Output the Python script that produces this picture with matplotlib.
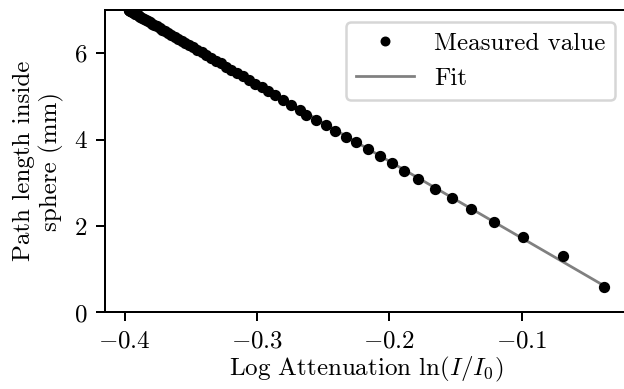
import numpy as np
import matplotlib
matplotlib.use("Agg")
import matplotlib.pyplot as plt

# path length (mm), right end to top-left
path_length = [
    0.597, 1.308, 1.748, 2.095, 2.384, 2.639, 2.866, 3.083, 3.275, 3.454,
    3.623, 3.778, 3.940, 4.069, 4.208, 4.340, 4.456, 4.572, 4.688, 4.803,
    4.919, 5.024, 5.119, 5.211, 5.299, 5.384, 5.465, 5.544, 5.619, 5.692,
    5.763, 5.830, 5.895, 5.958, 6.019, 6.077, 6.133, 6.187, 6.239, 6.289,
    6.337, 6.383, 6.427, 6.469, 6.510, 6.548, 6.585, 6.620, 6.654, 6.686,
    6.716, 6.744, 6.771, 6.797, 6.821, 6.843, 6.864, 6.883, 6.901, 6.917,
    6.932, 6.945, 6.957, 6.967, 6.977, 6.984, 6.990, 6.995, 6.998, 7.000,
]
# log attenuation ln(I/I0)
log_att = [
    -0.0380, -0.0691, -0.0989, -0.1208, -0.1383, -0.1525, -0.1655, -0.1781, -0.1894, -0.1982,
    -0.2070, -0.2166, -0.2251, -0.2329, -0.2410, -0.2480, -0.2553, -0.2629, -0.2679, -0.2742,
    -0.2802, -0.2861, -0.2914, -0.2966, -0.3015, -0.3063, -0.3108, -0.3152, -0.3194, -0.3235,
    -0.3275, -0.3313, -0.3349, -0.3384, -0.3419, -0.3451, -0.3483, -0.3513, -0.3542, -0.3570,
    -0.3597, -0.3623, -0.3647, -0.3671, -0.3694, -0.3715, -0.3736, -0.3756, -0.3775, -0.3792,
    -0.3809, -0.3825, -0.3840, -0.3855, -0.3868, -0.3881, -0.3892, -0.3903, -0.3913, -0.3922,
    -0.3930, -0.3938, -0.3944, -0.3950, -0.3956, -0.3960, -0.3963, -0.3966, -0.3967, -0.3969,
]

plt.rcParams['font.family'] = 'serif'
plt.rcParams['font.serif'] = ['cmr10']
plt.rcParams['mathtext.fontset'] = 'cm'
plt.rcParams['axes.formatter.use_mathtext'] = True
plt.rcParams['font.size'] = 10


def draw():
    x = np.array(log_att)
    y = np.array(path_length)
    a, b = np.polyfit(x, y, 1)
    xf = np.array([x.min(), x.max()])

    fig = plt.figure(figsize=(624 / 180, 389 / 180), dpi=180)
    ax = fig.add_axes([0.1683, 0.1967, 0.8377, 0.7776])
    ax.plot(x, y, 'o', color='black', markersize=3.5, label='Measured value', zorder=3)
    ax.plot(xf, a * xf + b, color='gray', lw=1.1, label='Fit', zorder=2)
    ax.set_ylim(0, 7)
    ax.set_xticks([-0.4, -0.3, -0.2, -0.1])
    ax.set_yticks([0, 2, 4, 6])
    ax.set_xlabel(r'Log Attenuation $\ln(I/I_0)$', labelpad=1)
    ax.set_ylabel('Path length inside\nsphere (mm)')
    ax.legend(loc='upper right', numpoints=1, handlelength=2.3, markerscale=0.85)
    fig.savefig('out.png', dpi=180)


if __name__ == "__main__":
    draw()
